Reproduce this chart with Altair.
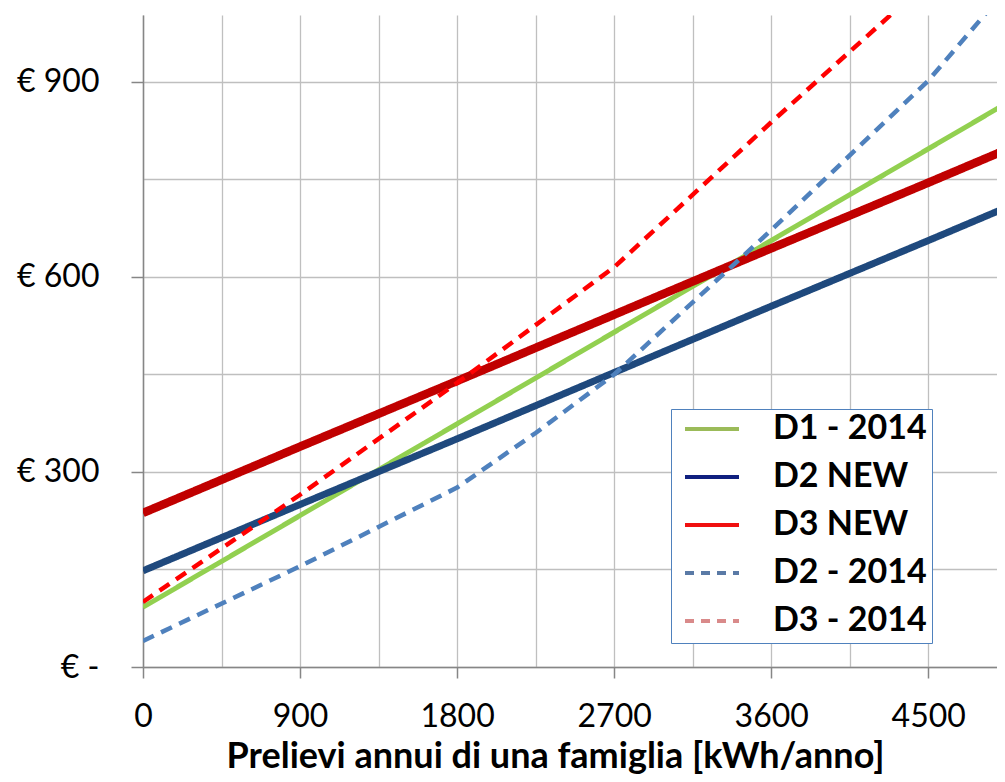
import altair as alt
import pandas as pd

# ---- data ----
series_names = ["D1 - 2014", "D2 NEW", "D3 NEW", "D2 - 2014", "D3 - 2014"]

d1_2014_kwh = [0, 900, 1800, 2700, 3600, 4500, 4940]
d1_2014_eur = [92, 233, 374, 515, 656, 797, 866]

d2_new_kwh = [0, 900, 1800, 2700, 3600, 4500, 4940]
d2_new_eur = [148, 250, 351, 453, 555, 656, 706]

d3_new_kwh = [0, 900, 1800, 2700, 3600, 4500, 4940]
d3_new_eur = [237, 339, 440, 542, 644, 745, 795]

d2_2014_kwh = [0, 900, 1800, 2250, 2700, 3600, 4500, 4940]
d2_2014_eur = [40, 155, 276, 360, 450, 672, 902, 1040]

d3_2014_kwh = [0, 900, 1800, 2700, 3600, 4500]
d3_2014_eur = [100, 265, 437, 615, 838, 1055]

x_grid_values = [0, 450, 900, 1350, 1800, 2250, 2700, 3150, 3600, 4050, 4500]
y_grid_values = [0, 150, 300, 450, 600, 750, 900]

# ---- styles ----
line_colors = ["#92D050", "#1F497D", "#C00000", "#4F81BD", "#FF0000"]
legend_colors = ["#9BBB59", "#10207F", "#F01010", "#5A7AA6", "#D98A8A"]
line_dashes = [[1, 0], [1, 0], [1, 0], [12, 8], [12, 8]]
legend_dashes = [[1, 0], [1, 0], [1, 0], [9, 7], [9, 7]]
line_widths = [5, 7, 8.5, 4.5, 4.5]

FONT = "Lato"

all_kwh = [d1_2014_kwh, d2_new_kwh, d3_new_kwh, d2_2014_kwh, d3_2014_kwh]
all_eur = [d1_2014_eur, d2_new_eur, d3_new_eur, d2_2014_eur, d3_2014_eur]

rows = []
for name, xs, ys in zip(series_names, all_kwh, all_eur):
    for i, (xv, yv) in enumerate(zip(xs, ys)):
        rows.append({"serie": name, "kwh": xv, "euro": yv, "i": i})
df = pd.DataFrame(rows)

x_scale = alt.Scale(domain=[0, 4894], nice=False, zero=False)
y_scale = alt.Scale(domain=[0, 1003], nice=False)

x_axis = alt.Axis(
    values=x_grid_values,
    grid=True, gridColor="#BFBFBF", gridWidth=1.3,
    domainColor="#868686", domainWidth=1.5,
    tickColor="#868686", tickWidth=1.5, tickSize=11,
    tickOpacity={"condition": {"test": "datum.value % 900 !== 0", "value": 0}, "value": 1},
    labelExpr="datum.value % 900 === 0 ? datum.label : ''",
    labelFont=FONT, labelFontSize=32, labelColor="#000000", labelPadding=23,
    labelFlush=False, labelOverlap=False,
    title="Prelievi annui di una famiglia [kWh/anno]",
    titleFont=FONT, titleFontSize=36, titleFontWeight="bold", titleColor="#000000",
    titleBaseline="alphabetic", titleX=412, titleY=100, titleAlign="center",
    format="d",
)
y_axis = alt.Axis(
    values=y_grid_values,
    grid=True, gridColor="#BFBFBF", gridWidth=1.3,
    domainColor="#868686", domainWidth=1.5,
    tickColor="#868686", tickWidth=1.5, tickSize=12,
    tickOpacity={"condition": {"test": "datum.value % 300 !== 0", "value": 0}, "value": 1},
    labelExpr="datum.value % 300 !== 0 ? '' : (datum.value === 0 ? '€ -\u2007' : '€ ' + datum.value)",
    labelFont=FONT, labelFontSize=32, labelColor="#000000", labelPadding=32,
    labelFlush=False, labelOverlap=False,
    title=None,
)

layers = []
for k, name in enumerate(series_names):
    layer = (
        alt.Chart(df)
        .transform_filter(alt.datum.serie == name)
        .mark_line(
            clip=True,
            color=line_colors[k],
            strokeDash=line_dashes[k],
            strokeWidth=line_widths[k],
            strokeCap="butt",
            strokeJoin="round",
        )
        .encode(
            x=alt.X("kwh:Q", scale=x_scale, axis=x_axis),
            y=alt.Y("euro:Q", scale=y_scale, axis=y_axis),
            order="i:Q",
        )
    )
    layers.append(layer)

legend_opts = dict(
    orient="none", legendX=528, legendY=394, title=None,
    fillColor="#FFFFFF", strokeColor="#4F81BD",
    padding=5, clipHeight=30, rowPadding=14,
    symbolType="stroke", symbolSize=2916, symbolStrokeWidth=4,
    symbolOffset=7, labelOffset=32,
    labelFont=FONT, labelFontSize=34, labelFontWeight="bold",
    labelColor="#000000", labelLimit=400,
)

legend_layer = (
    alt.Chart(df)
    .transform_filter("false")
    .mark_line()
    .encode(
        x=alt.X("kwh:Q", scale=x_scale, axis=x_axis),
        y=alt.Y("euro:Q", scale=y_scale, axis=y_axis),
        color=alt.Color(
            "serie:N",
            scale=alt.Scale(domain=series_names, range=legend_colors),
            legend=alt.Legend(**legend_opts),
        ),
        strokeDash=alt.StrokeDash(
            "serie:N",
            scale=alt.Scale(domain=series_names, range=legend_dashes),
            legend=alt.Legend(**legend_opts),
        ),
    )
)

chart = (
    alt.layer(*layers, legend_layer)
    .properties(
        width=854, height=652,
        autosize=alt.AutoSizeParams(type="none"),
        padding={"left": 135, "top": 7, "right": 0, "bottom": 107},
        background="#FFFFFF",
    )
    .configure_view(stroke=None)
)

chart.save("out.html", embed_options={"renderer": "svg", "actions": False})
